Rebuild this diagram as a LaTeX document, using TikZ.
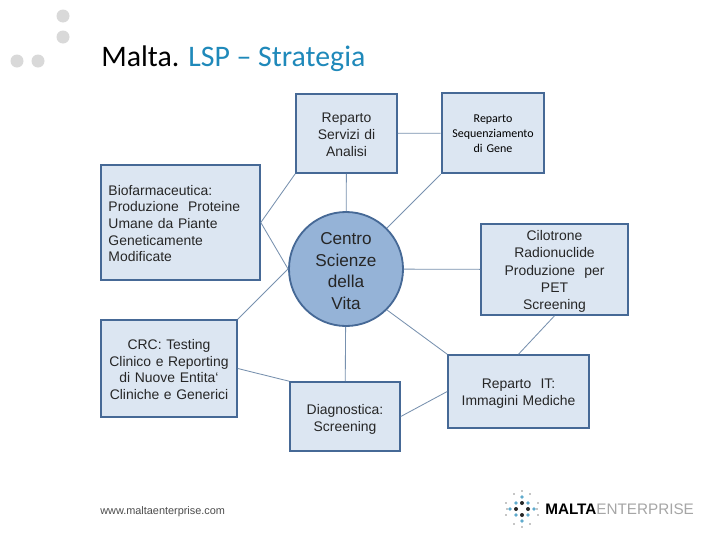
\documentclass[tikz,border=0pt]{standalone}
\usepackage{fontspec}
\setmainfont{Liberation Sans}
\newfontfamily\titlefont{Carlito}
\definecolor{boxfill}{RGB}{220,230,242}
\definecolor{boxline}{RGB}{70,105,150}
\definecolor{hubfill}{RGB}{149,179,215}
\definecolor{linkline}{RGB}{120,145,175}
\definecolor{titleblue}{RGB}{31,137,186}
\definecolor{dotgrey}{RGB}{217,217,217}
\definecolor{logoblue}{RGB}{95,170,205}
\begin{document}
\begin{tikzpicture}[x=0.025cm, y=-0.025cm,
    nudge/.style={execute at begin node={\rule{0pt}{#1}}},
    infobox/.style={draw=boxline, fill=boxfill, rectangle, line width=1.1pt, align=center, font=\fontsize{9.9}{11.9}\selectfont, text=black!85, inner sep=0pt},
    link/.style={draw=linkline, line width=0.6pt}]
    \useasboundingbox (0,0) rectangle (720,540);
    \fill[white] (0,0) rectangle (720,540);

    % Corner dots
    \foreach \x/\y in {63/16, 63/37, 17/61, 38/61}
        \fill[dotgrey] (\x,\y) circle (6.5);

    % Title
    \node[anchor=base west, inner sep=0pt, font=\titlefont\fontsize{21.2}{25}\selectfont] (title) at (101,66) {Malta. \textcolor{titleblue}{LSP – Strategia}};

    % Departments
    \node[infobox, nudge=8.6pt, text width=2.5cm, minimum width=2.525cm, minimum height=1.975cm] (servizi) at (346.5,133.5) {Reparto\\Servizi di\\Analisi};
    \node[infobox, nudge=6.9pt, line width=1.8pt, text width=2.5cm, minimum width=2.55cm, minimum height=2cm, font=\titlefont\fontsize{8.5}{10.7}\selectfont, text=black] (sequenza) at (493,133) {Reparto\\Sequenziamento\\di Gene};
    \node[infobox, nudge=8.6pt, minimum width=3.975cm, minimum height=2.875cm, align=left, text width=3.6cm] (biofarma) at (180.5,222.5) {Biofarmaceutica:\\Produzione\ \ Proteine\\Umane da Piante\\Geneticamente\\Modificate};
    \node[infobox, nudge=10pt, text width=3.6cm, minimum width=3.675cm, minimum height=2.275cm, font=\fontsize{9.9}{12.2}\selectfont] (cilotrone) at (554.5,269.5) {Cilotrone\\Radionuclide\\Produzione\ \ per\\PET\\Screening};
    \node[infobox, nudge=8.6pt, text width=3.35cm, minimum width=3.4cm, minimum height=2.425cm] (crc) at (169,368.5) {CRC: Testing\\Clinico e Reporting\\di Nuove Entita`\\Cliniche e Generici};
    \node[infobox, nudge=10pt, text width=3.5cm, minimum width=3.525cm, minimum height=1.825cm] (reparto) at (518.5,391.5) {Reparto\ \ IT:\\Immagini Mediche};
    \node[infobox, nudge=11.5pt, text width=2.7cm, minimum width=2.75cm, minimum height=1.725cm] (diagnostica) at (345,416.5) {Diagnostica:\\Screening};

    % Centre
    \node[draw=boxline, fill=hubfill, circle, nudge=11.7pt, text width=1.7cm, line width=1.3pt, minimum size=2.85cm, inner sep=0pt, align=center, font=\fontsize{12.2}{15.4}\selectfont, text=black!85] (centro) at (346,269) {Centro\\Scienze\\della\\Vita};

    % Links
    \draw[link] (servizi) -- (sequenza);
    \draw[link] (servizi) -- (centro);
    \draw[link] (sequenza.south west) -- (centro.north east);
    \draw[link] (centro) -- (cilotrone);
    \draw[link] (cilotrone.south) -- (reparto.north);
    \draw[link] (centro.-45) -- (reparto.north west);
    \draw[link] (centro) -- (diagnostica);
    \draw[link] (diagnostica.east) -- (reparto.west);
    \draw[link] (crc.east) -- (diagnostica.north west);
    \draw[link] (crc.north east) -- (centro.west);
    \draw[link] (biofarma.east) -- (centro.west);
    \draw[link] (biofarma.east) -- (servizi.south west);

    % Footer
    \node[anchor=base west, inner sep=0pt, font=\fontsize{7.75}{9}\selectfont, text=black!70] (web) at (100,514) {www.maltaenterprise.com};

    % Logo
    \foreach \x/\y in {522/497, 522/521, 510/509, 534/509, 516/503, 528/503, 516/515, 528/515}
        \fill[logoblue] (\x,\y) circle (1.9);
    \foreach \x/\y in {522/503, 522/515, 516/509, 528/509}
        \fill[black!85] (\x,\y) circle (2);
    \foreach \x/\y in {522/491, 522/527, 506/503, 506/515, 538/503, 538/515, 514/494, 530/494, 514/524, 530/524, 507/509, 537/509}
        \fill[black!45] (\x,\y) circle (0.8);
    \node[anchor=base west, inner sep=0pt, font=\fontsize{10.85}{13}\selectfont] (logo) at (545,514) {\textbf{MALTA}\textcolor{black!35}{ENTERPRISE}};
\end{tikzpicture}
\end{document}
